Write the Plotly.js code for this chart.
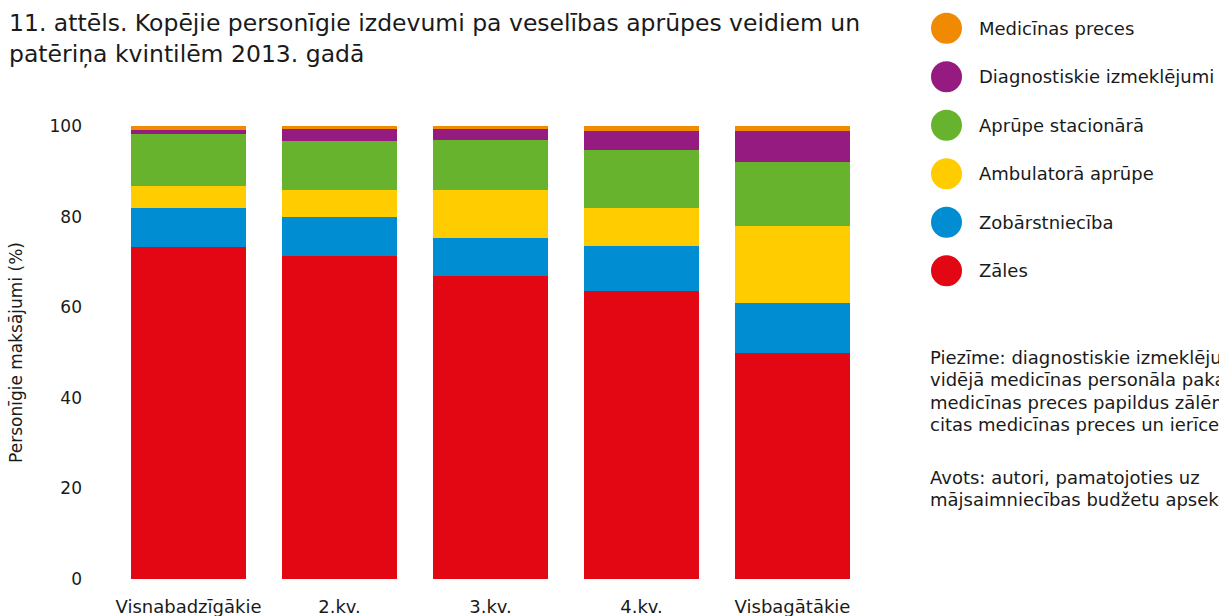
<!DOCTYPE html>
<html>
<head>
<meta charset="utf-8">
<script src="https://cdn.plot.ly/plotly-3.0.1.min.js"></script>
<style>html,body{margin:0;padding:0;background:#fff;}#chart{width:1219px;height:616px;}</style>
</head>
<body>
<div id="chart"></div>
<script>
// Categories (consumption quintiles)
const categories = ["Visnabadzīgākie", "2.kv.", "3.kv.", "4.kv.", "Visbagātākie"];

// Series values (% of personal payments)
const zales          = [73.4, 71.2, 66.8, 63.5, 49.8];
const zobarstnieciba = [8.5, 8.7, 8.5, 10.1, 11.2];
const ambulatora     = [4.9, 6.0, 10.6, 8.3, 16.9];
const stacionara     = [11.4, 10.8, 11.0, 12.8, 14.2];
const diagnostiskie  = [0.9, 2.6, 2.4, 4.2, 6.8];
const medPreces      = [0.9, 0.7, 0.7, 1.1, 1.1];

const seriesNames = ["Zāles", "Zobārstniecība", "Ambulatorā aprūpe", "Aprūpe stacionārā", "Diagnostiskie izmeklējumi", "Medicīnas preces"];
const seriesValues = [zales, zobarstnieciba, ambulatora, stacionara, diagnostiskie, medPreces];
const seriesColors = ["#E30613", "#008DD2", "#FFCC00", "#67B32E", "#951B81", "#F08A00"];

const yTicks = [0, 20, 40, 60, 80, 100];

const titleText = "11. attēls. Kopējie personīgie izdevumi pa veselības aprūpes veidiem un<br>patēriņa kvintilēm 2013. gadā";
const yTitle = "Personīgie maksājumi (%)";
const noteLines = [
  "Piezīme: diagnostiskie izmeklējumi ietver",
  "vidējā medicīnas personāla pakalpojumus;",
  "medicīnas preces papildus zālēm ietver",
  "citas medicīnas preces un ierīces."
];
const sourceLines = [
  "Avots: autori, pamatojoties uz",
  "mājsaimniecības budžetu apsekojumu."
];

const FONT = "DejaVu Sans, sans-serif";
const TXT = "#1a1a1a";
const W = 1219, H = 616;
const mL = 113, mR = 351, mT = 126, mB = 37;
const pw = W - mL - mR, ph = H - mT - mB;
const px2x = p => (p - mL) / pw;
const py2y = p => (H - mB - p) / ph;

const traces = seriesNames.map((n, i) => ({
  type: "bar",
  name: n,
  x: categories,
  y: seriesValues[i],
  marker: {color: seriesColors[i], line: {width: 0}},
  hoverinfo: "x+y+name",
  showlegend: false
}));

// Manual legend (top to bottom: reverse series order)
const shapes = [];
const annotations = [];
const legendTop = 28.3, legendStep = 48.5;
for (let k = 0; k < seriesNames.length; k++) {
  const i = seriesNames.length - 1 - k;
  const cy = legendTop + k * legendStep;
  shapes.push({
    type: "circle", xref: "paper", yref: "paper",
    xsizemode: "pixel", ysizemode: "pixel",
    xanchor: px2x(946.5), yanchor: py2y(cy),
    x0: -15.5, x1: 15.5, y0: -15.5, y1: 15.5,
    fillcolor: seriesColors[i], line: {width: 0}
  });
  annotations.push({
    xref: "paper", yref: "paper", x: px2x(977), y: py2y(cy),
    xanchor: "left", yanchor: "middle", showarrow: false,
    text: seriesNames[i], font: {family: FONT, size: 18, color: TXT}
  });
}
// Note / source lines
const lineStep = 22.3;
const addLines = (lines, top) => lines.forEach((t, j) => {
  annotations.push({
    xref: "paper", yref: "paper", x: px2x(928), y: py2y(top + j * lineStep),
    xanchor: "left", yanchor: "middle", showarrow: false, align: "left",
    text: t, font: {family: FONT, size: 18, color: TXT}
  });
});
addLines(noteLines, 357.5);
addLines(sourceLines, 477);

const layout = {
  width: W, height: H,
  margin: {l: mL, r: mR, t: mT, b: mB, pad: 0},
  paper_bgcolor: "#fff", plot_bgcolor: "#fff",
  barmode: "stack",
  bargap: 0.238,
  showlegend: false,
  title: {
    text: titleText, x: 9 / W, xref: "container", xanchor: "left",
    y: 1 - 31 / H, yref: "container", yanchor: "top",
    font: {family: FONT, size: 23.5, color: TXT}
  },
  xaxis: {
    type: "category", range: [-0.5, 4.5], showgrid: false, zeroline: false,
    showline: false, ticks: "", ticklabelstandoff: 15,
    tickfont: {family: FONT, size: 18, color: TXT}
  },
  yaxis: {
    range: [0, 100], tickvals: yTicks, showgrid: false, zeroline: false,
    showline: false, ticks: "", ticklabelstandoff: 30,
    tickfont: {family: FONT, size: 17, color: TXT},
    title: {text: yTitle, standoff: 22, font: {family: FONT, size: 17, color: TXT}}
  },
  shapes: shapes,
  annotations: annotations
};

Plotly.newPlot("chart", traces, layout, {displayModeBar: false, staticPlot: true});
</script>
</body>
</html>
